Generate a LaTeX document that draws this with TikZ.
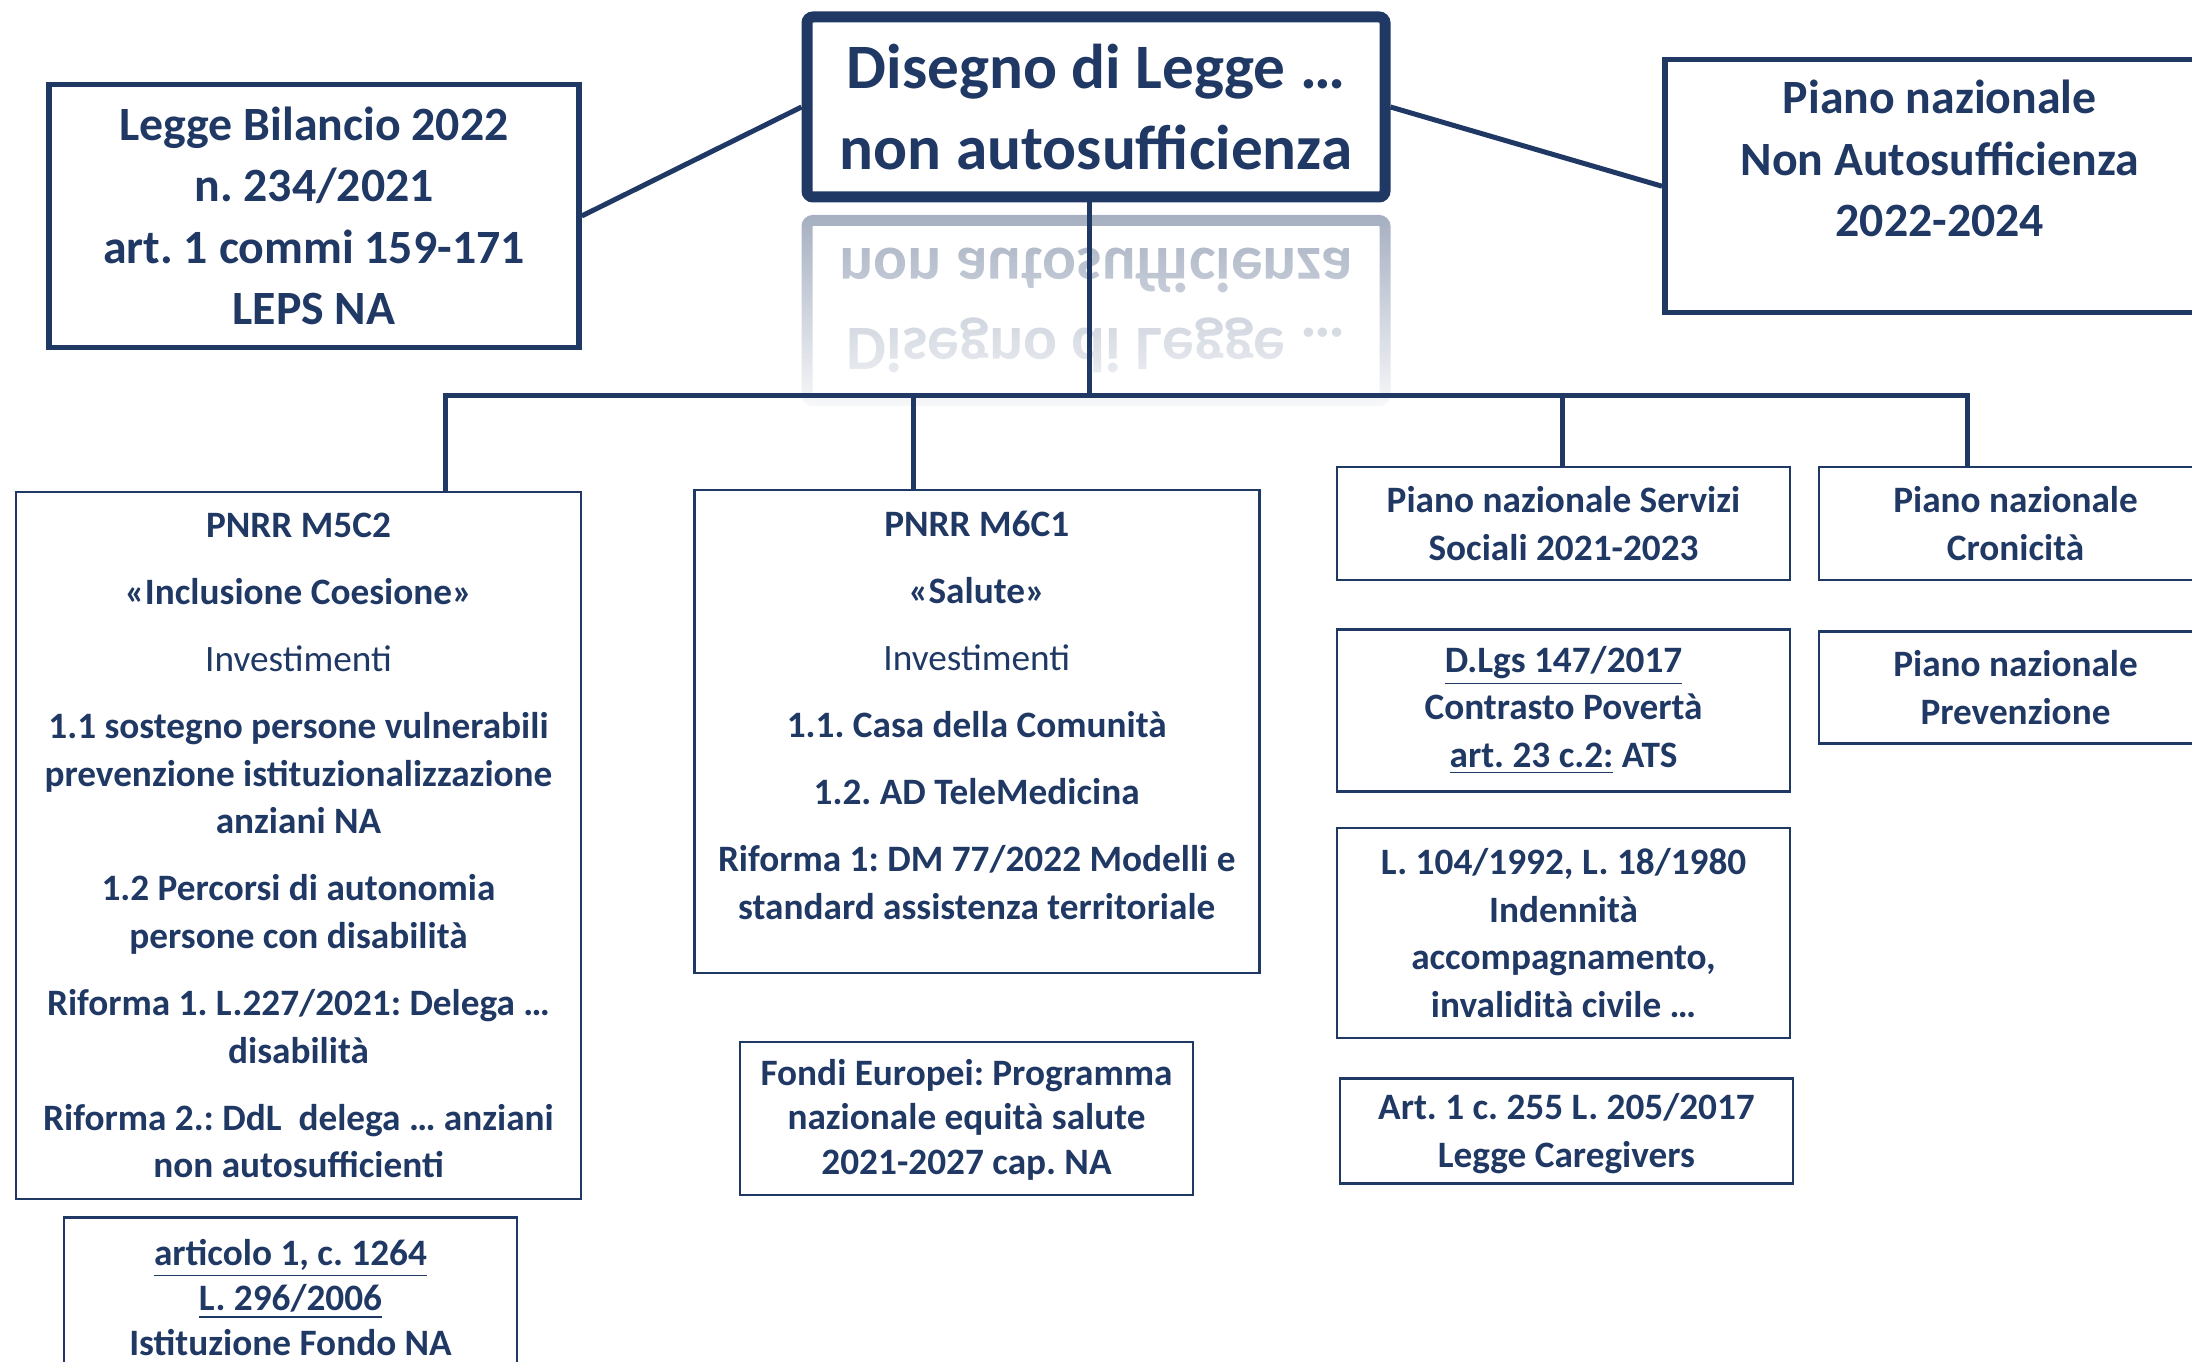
\documentclass[tikz,border=0pt]{standalone}
\usepackage{fontspec}
\setmainfont{Carlito}
\usetikzlibrary{positioning,fadings}
\definecolor{cNavy}{HTML}{203864}
\tikzset{
  frame/.style   = {draw=cNavy, text=cNavy, align=center, inner sep=0pt,
                    font=\bfseries\fontsize{10.6}{13.5}\selectfont},
  thinbox/.style = {frame, line width=0.25mm},
  lawbox/.style  = {frame, line width=0.55mm,
                    font=\bfseries\fontsize{13.6}{17.5}\selectfont},
  ddlbox/.style  = {frame, line width=1.1mm, rounded corners=0.6mm,
                    minimum width=57.8mm, minimum height=18mm,
                    font=\bfseries\fontsize{18}{23}\selectfont},
  tight/.style   = {font=\bfseries\fontsize{10.6}{12.7}\selectfont},
  link/.style    = {draw=cNavy, line width=0.5mm},
  tree/.style    = {link},
}
\newcommand{\gap}{\\[5.6pt]}
\newcommand{\invest}{{\mdseries Investimenti}}
\frenchspacing

\begin{document}
\begin{tikzpicture}[x=0.1mm, y=-0.1mm]
  \clip (0,0) rectangle (2192,1362);
  % top row
  \node[ddlbox] (ddl) at (1096,107)
    {Disegno di Legge …\\ non autosufficienza};
  \node[lawbox, minimum width=53mm, minimum height=26.3mm] (bilancio) at (314,216)
    {Legge Bilancio 2022\\ n. 234/2021\\ art. 1 commi 159-171\\ LEPS NA};
  \node[lawbox, anchor=north west] (pianoNA) at (1662,57)
    {\parbox[c][25.3mm][t]{55mm}{\centering\vspace*{5.8pt}%
     Piano nazionale\\ Non Autosufficienza\\ 2022-2024}};
  % reflection of the title box
  \begin{scope}[shift={(1096,310.5)}, yscale=-1, transform shape, opacity=0.42]
    \node[ddlbox] (ddlecho) {Disegno di Legge …\\ non autosufficienza};
  \end{scope}
  \fill[white, path fading=north] (790,205) rectangle (1400,425);

  % PNRR columns
  \node[thinbox, minimum width=56.5mm, minimum height=70.7mm] (m5c2) at (298.5,845.5)
    {PNRR M5C2\gap «Inclusione Coesione»\gap \invest\gap
     1.1 sostegno persone vulnerabili\\ prevenzione istituzionalizzazione\\ anziani NA\gap
     1.2 Percorsi di autonomia\\ persone con disabilità\gap
     Riforma 1. L.227/2021: Delega …\\ disabilità\gap
     Riforma 2.: DdL\ \ delega … anziani\\ non autosufficienti};
  \node[thinbox, tight, minimum width=45.3mm, minimum height=16mm,
        below=1.6mm of m5c2, xshift=-0.8mm] (fondoNA)
    {\underline{articolo 1, c. 1264}\\ \underline{L. 296/2006}\\ Istituzione Fondo NA};
  \node[thinbox, anchor=north west] (m6c1) at (693,489)
    {\parbox[c][48.3mm][t]{56.5mm}{\centering\vspace*{5.8pt}%
     PNRR M6C1\gap «Salute»\gap \invest\gap
     1.1. Casa della Comunità\gap 1.2. AD TeleMedicina\gap
     Riforma 1: DM 77/2022 Modelli e\\ standard assistenza territoriale}};
  \node[thinbox, tight, minimum width=45.3mm, minimum height=15.3mm] (fondiUE) at (966.5,1118.5)
    {\rule{0pt}{8pt}Fondi Europei: Programma\\ nazionale equità salute\\ 2021-2027 cap. NA};

  % national plans and laws
  \node[thinbox, minimum width=45.3mm, minimum height=11.3mm] (servizi) at (1563.5,523.5)
    {Piano nazionale Servizi\\ Sociali 2021-2023};
  \node[thinbox, minimum width=45.3mm, minimum height=16.2mm, below=4.7mm of servizi] (dlgs)
    {\underline{D.Lgs 147/2017}\\ Contrasto Povertà\\ \underline{art. 23 c.2:} ATS};
  \node[thinbox, minimum width=45.3mm, minimum height=21mm, below=3.4mm of dlgs] (l104)
    {L. 104/1992, L. 18/1980\\ Indennità\\ accompagnamento,\\ invalidità civile …};
  \node[thinbox, minimum width=45.3mm, minimum height=10.5mm, below=3.8mm of l104,
        xshift=0.3mm] (caregiver)
    {\rule{0pt}{9pt}Art. 1 c. 255 L. 205/2017\\ Legge Caregivers};
  \node[thinbox, minimum width=39.3mm, minimum height=11.3mm] (cronic) at (2015.5,523.5)
    {Piano nazionale\\ Cronicità};
  \node[thinbox, minimum width=39.3mm, minimum height=11.2mm, below=4.9mm of cronic] (prevenz)
    {Piano nazionale\\ Prevenzione};

  % connectors
  \draw[link] (bilancio.east) -- (ddl.west);
  \draw[link] (ddl.east) -- (pianoNA.west);
  \coordinate (bus) at (1089,396);
  \coordinate (d1) at (445,396);
  \coordinate (d2) at (913,396);
  \coordinate (d3) at (1562,396);
  \coordinate (d4) at (1967,396);
  \draw[tree] (bus |- ddl.south) -- (bus);
  \draw[tree] (d1 |- m5c2.north) -- (d1) -- (d4) -- (d4 |- cronic.north);
  \draw[tree] (d2) -- (d2 |- m6c1.north);
  \draw[tree] (d3) -- (d3 |- servizi.north);
\end{tikzpicture}
\end{document}
